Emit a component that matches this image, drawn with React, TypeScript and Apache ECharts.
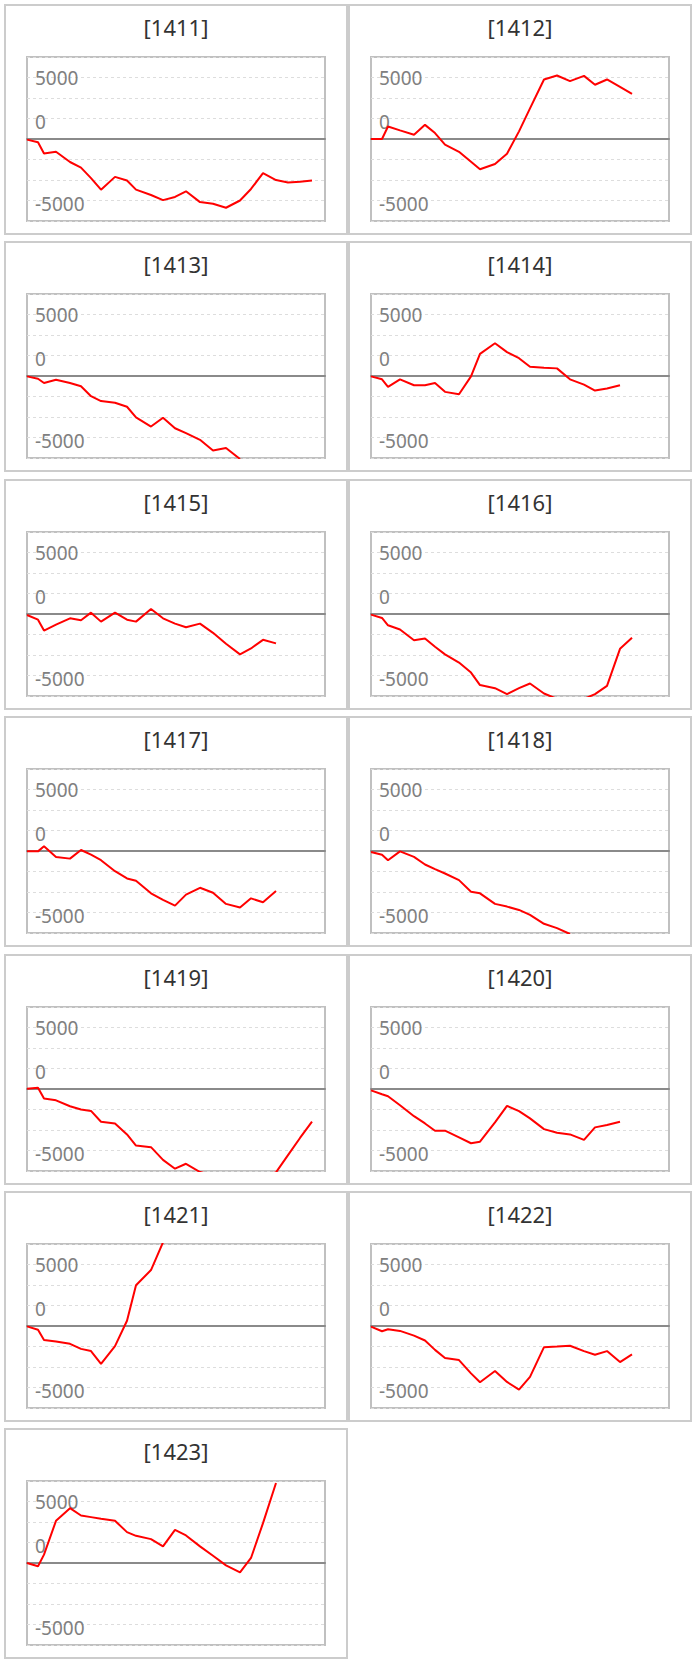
import React, { useEffect, useRef } from "react";
import * as echarts from "echarts";

// shared x positions (time offsets of the observations)
const timeOffsets = [0, 11, 17, 29, 43, 54, 64, 74, 88, 100, 109, 124, 136, 148, 159, 173, 186, 199, 213, 224, 236, 249, 261, 273, 285];
const xMax = 298;

const codes = ["1411", "1412", "1413", "1414", "1415", "1416", "1417", "1418", "1419", "1420", "1421", "1422", "1423"];

const s1411 = [-50, -270, -1180, -1040, -1870, -2330, -3180, -4120, -3080, -3370, -4120, -4550, -4970, -4710, -4250, -5130, -5270, -5590, -5000, -4060, -2780, -3340, -3530, -3480, -3370];
const s1412 = [0, 0, 1020, 700, 350, 1150, 480, -450, -1040, -1850, -2460, -2030, -1200, 620, 2490, 4840, 5160, 4710, 5130, 4410, 4840, 4230, 3660];
const s1413 = [-30, -220, -570, -300, -570, -830, -1640, -2040, -2180, -2500, -3360, -4110, -3390, -4250, -4650, -5190, -6050, -5860, -6750];
const s1414 = [-30, -270, -890, -270, -750, -750, -570, -1290, -1480, -30, 1800, 2660, 1940, 1450, 750, 670, 620, -270, -700, -1180, -1020, -750];
const s1415 = [-80, -460, -1350, -860, -350, -510, 110, -620, 110, -460, -620, 400, -350, -780, -1080, -780, -1530, -2420, -3280, -2800, -2100, -2390];
const s1416 = [-50, -320, -920, -1260, -2130, -1990, -2660, -3280, -3950, -4760, -5780, -6030, -6510, -6030, -5650, -6460, -6900, -7000, -6900, -6510, -5840, -2830, -1940];
const s1417 = [-30, -30, 380, -480, -620, 80, -300, -750, -1640, -2230, -2420, -3440, -3980, -4440, -3550, -2990, -3390, -4300, -4600, -3850, -4170, -3260];
const s1418 = [-80, -300, -750, -30, -480, -1100, -1480, -1830, -2370, -3310, -3440, -4300, -4520, -4790, -5190, -5920, -6270, -6750];
const s1419 = [30, 110, -780, -920, -1400, -1670, -1780, -2660, -2800, -3690, -4600, -4730, -5760, -6480, -6080, -6750, -7000, -7100, -7000, -7100, -7000, -6780, -5380, -3980, -2660];
const s1420 = [-110, -430, -590, -1320, -2210, -2800, -3390, -3390, -3930, -4410, -4280, -2720, -1370, -1800, -2390, -3260, -3550, -3690, -4140, -3120, -2930, -2660];
const s1421 = [-30, -300, -1130, -1260, -1450, -1860, -2040, -3070, -1640, 430, 3310, 4550, 6800];
const s1422 = [-50, -430, -270, -400, -780, -1180, -1940, -2610, -2770, -3850, -4570, -3660, -4550, -5170, -4140, -1720, -1670, -1610, -2040, -2340, -2040, -2930, -2310];
const s1423 = [0, -270, 680, 3430, 4460, 3860, 3730, 3590, 3430, 2510, 2210, 1940, 1350, 2700, 2240, 1350, 590, -190, -760, 410, 3240, 6500];

const seriesValues = [s1411, s1412, s1413, s1414, s1415, s1416, s1417, s1418, s1419, s1420, s1421, s1422, s1423];

// y axis: five-thousand split in three grid steps
const yStep = 5000 / 3;
const yMin = -4 * yStep;
const yMax = 4 * yStep;
const yLabelValues = [5000, 0, -5000];

const FONT = "'Noto Sans', 'DejaVu Sans', sans-serif";
const labelStyle = { fontSize: 19, color: "#808080", fontFamily: FONT };

function Panel({ code, values, index }: { code: string; values: number[]; index: number }) {
  const ref = useRef<HTMLDivElement>(null);
  useEffect(() => {
    if (!ref.current) return;
    const chart = echarts.init(ref.current, null, { renderer: "svg" });
    chart.setOption({
      animation: false,
      title: {
        text: `[${code}]`,
        left: "center",
        top: 5,
        textStyle: { fontSize: 22, fontWeight: "normal", color: "#333333", fontFamily: FONT },
      },
      grid: {
        left: 21,
        top: 51,
        width: 298,
        height: 164,
        show: true,
        borderColor: "#c0c0c0",
        borderWidth: 2,
        backgroundColor: "transparent",
        containLabel: false,
        outerBoundsMode: "none",
      },
      xAxis: {
        type: "value",
        min: 0,
        max: xMax,
        axisLabel: { show: false },
        axisTick: { show: false },
        splitLine: { show: false },
        axisLine: { show: true, onZero: true, lineStyle: { color: "#8a8a8a", width: 2 } },
      },
      yAxis: {
        type: "value",
        min: yMin,
        max: yMax,
        interval: yStep,
        axisLine: { show: false, onZero: false },
        axisTick: { show: false },
        splitLine: { show: true, lineStyle: { color: "#dddddd", type: [3, 3], width: 1 } },
        axisLabel: {
          inside: true,
          margin: 8,
          showMinLabel: true,
          showMaxLabel: true,
          formatter: (v: number) => {
            const r = Math.round(v);
            if (!yLabelValues.includes(r)) return "";
            if (r === 0) return `{z|${r}}`;
            if (r < 0) return `{n|${r}}`;
            return `{p|${r}}`;
          },
          rich: {
            p: { ...labelStyle },
            z: { ...labelStyle, padding: [0, 0, 35, 0] },
            n: { ...labelStyle, padding: [7, 0, 0, 0] },
          },
        },
      },
      series: [
        {
          type: "line",
          data: values.map((v, i) => [timeOffsets[i], v]),
          showSymbol: false,
          symbol: "none",
          clip: true,
          lineStyle: { color: "#ff0000", width: 2 },
          itemStyle: { color: "#ff0000" },
        },
      ],
    });
    return () => chart.dispose();
  }, [code, values]);

  const col = index % 2;
  const row = Math.floor(index / 2);
  return (
    <div
      style={{
        position: "absolute",
        left: col === 0 ? 4 : 348,
        top: 4 + row * 237.4,
        width: 344,
        height: 231,
        border: "2px solid #cccccc",
        boxSizing: "border-box",
        background: "#ffffff",
      }}
    >
      <div ref={ref} style={{ width: 340, height: 227 }} />
    </div>
  );
}

export default function App() {
  return (
    <div style={{ position: "absolute", left: 0, top: 0, width: 698, height: 1661, overflow: "hidden" }}>
      {codes.map((c, i) => (
        <Panel key={c} code={c} values={seriesValues[i]} index={i} />
      ))}
    </div>
  );
}
